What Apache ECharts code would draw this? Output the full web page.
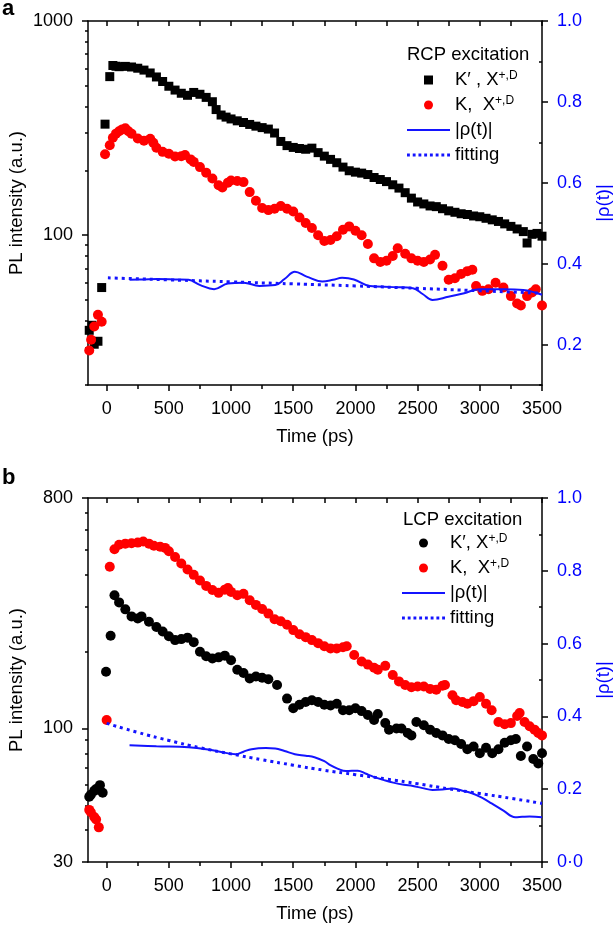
<!DOCTYPE html>
<html>
<head>
<meta charset="utf-8">
<script src="https://cdn.jsdelivr.net/npm/echarts@6/dist/echarts.min.js"></script>
<style>
html,body{margin:0;padding:0;background:#fff;}
#chart{width:616px;height:926px;}
</style>
</head>
<body>
<div id="chart"></div>
<script>
// ---------- tick labels ----------
const xMajorTicks = [0, 500, 1000, 1500, 2000, 2500, 3000, 3500];
const xMinorTicks = [250, 750, 1250, 1750, 2250, 2750, 3250];
const xTopTicks = [0, 250, 500, 750, 1000, 1250, 1500, 1750, 2000, 2250, 2500, 2750, 3000, 3250, 3500];
const topLogMajor = [100, 1000];
const topLogMinor = [20, 30, 40, 50, 60, 70, 80, 90, 200, 300, 400, 500, 600, 700, 800, 900];
const botLogMajor = [30, 100, 800];
const botLogMinor = [40, 50, 60, 70, 80, 90, 200, 300, 400, 500, 600, 700];
const topRhoMajor = [0.2, 0.4, 0.6, 0.8, 1.0];
const topRhoMinor = [0.1, 0.3, 0.5, 0.7, 0.9];
const botRhoMajor = [0, 0.2, 0.4, 0.6, 0.8, 1.0];
const botRhoMinor = [0.1, 0.3, 0.5, 0.7, 0.9];

// ---------- panel a (RCP excitation) ----------
const topKprime = [[-140,36],[-118,38],[-100,31],[-70,32],[-40,57],[-13,330],[25,550],[50,620],[75,615],[100,612],[150,614],[200,610],[250,602],[300,590],[350,572],[400,548],[450,522],[500,496],[550,476],[600,460],[650,450],[700,464],[750,455],[800,440],[850,420],[880,386],[920,364],[960,356],[1000,349],[1050,342],[1100,336],[1150,329],[1200,323],[1250,318],[1300,313],[1350,300],[1400,274],[1450,262],[1500,257],[1550,254],[1600,252],[1650,255],[1700,243],[1750,234],[1800,226],[1850,218],[1900,208],[1950,200],[2000,197],[2050,195],[2100,192],[2150,186],[2200,182],[2250,178],[2300,172],[2350,166],[2400,158],[2450,149],[2500,143],[2550,140],[2600,137],[2650,136],[2700,133],[2750,130],[2800,128],[2850,126],[2900,125],[2950,123],[3000,122],[3050,120],[3100,118],[3150,116],[3200,113],[3250,110],[3300,107],[3350,104],[3380,92],[3420,101],[3460,102],[3500,99]];
const topK = [[-140,29],[-125,32.5],[-100,37.5],[-70,42.5],[-40,39.5],[-13,239],[25,263],[50,285],[75,298],[100,306],[125,312],[150,316],[175,306],[200,298],[250,283],[300,276],[350,282],[375,270],[400,256],[450,245],[500,240],[550,233],[600,234],[630,237],[675,226],[700,220],[750,208],[800,196],[850,184],[900,171],[930,167],[975,176],[1000,180],[1050,179],[1100,177],[1150,159],[1200,145],[1250,134],[1300,131],[1350,133],[1400,137],[1450,133],[1500,129],[1550,121],[1600,114],[1650,108],[1700,100],[1750,94],[1800,95],[1850,99],[1900,106],[1950,110],[2000,105],[2050,100],[2100,91],[2150,78],[2200,75],[2250,76],[2300,80],[2340,87],[2400,82],[2450,78],[2500,76],[2550,75],[2600,77],[2640,81],[2700,72],[2750,62],[2800,63],[2850,66],[2900,68],[2940,69],[2970,58],[3020,55],[3070,56],[3127,60],[3190,57],[3250,52],[3300,48],[3330,47],[3380,52],[3420,54],[3450,56],[3500,47]];
const topRho = [[184,0.360],[300,0.361],[405,0.362],[550,0.361],[658,0.360],[753,0.347],[864,0.337],[975,0.351],[1101,0.353],[1228,0.345],[1355,0.347],[1430,0.362],[1513,0.380],[1608,0.368],[1734,0.356],[1820,0.360],[1893,0.365],[1988,0.361],[2114,0.345],[2304,0.342],[2462,0.339],[2540,0.325],[2620,0.310],[2747,0.318],[2874,0.327],[3000,0.337],[3190,0.337],[3349,0.335],[3500,0.323]];
const topFit = [[10,0.365],[500,0.360],[1000,0.355],[1500,0.350],[2000,0.345],[2500,0.339],[3000,0.333],[3500,0.327]];

// ---------- panel b (LCP excitation) ----------
const botKprime = [[-140,54],[-127,55],[-100,57],[-85,58],[-54,60],[-32,56],[-5,167],[32,231],[63,333],[100,312],[150,293],[200,275],[250,270],[280,275],[340,262],[400,250],[450,240],[500,230],[550,222],[600,224],[650,227],[700,218],[750,200],[800,192],[850,188],[900,190],[950,193],[1000,185],[1050,170],[1100,165],[1150,157],[1200,160],[1250,158],[1300,156],[1370,148],[1450,131],[1500,120],[1550,124],[1600,127],[1650,129],[1700,127],[1750,124],[1800,123],[1850,125],[1900,118],[1950,118],[2000,120],[2050,117],[2100,113],[2150,108],[2180,114],[2240,105],[2270,99],[2330,100],[2370,100],[2420,96],[2450,94],[2490,106],[2550,103],[2600,99],[2650,96],[2700,94],[2750,91],[2800,90],[2850,87],[2900,83],[2950,85],[3000,80],[3050,84],[3100,80],[3150,83],[3200,88],[3250,90],[3290,91],[3330,78],[3380,85],[3430,76],[3470,73],[3500,80]];
const botK = [[-140,48],[-127,47],[-100,45],[-85,44],[-63,41],[0,108],[25,430],[63,504],[100,525],[150,530],[200,532],[250,535],[294,540],[340,530],[380,520],[430,515],[470,510],[500,495],[550,470],[600,443],[650,420],[700,400],[750,380],[800,362],[850,349],[900,340],[950,350],[975,355],[1000,343],[1050,333],[1100,337],[1150,318],[1200,305],[1250,294],[1300,282],[1350,268],[1400,263],[1450,255],[1500,243],[1550,234],[1600,228],[1650,222],[1700,216],[1750,210],[1800,206],[1850,206],[1900,208],[1930,210],[1990,194],[2050,183],[2100,178],[2150,173],[2180,170],[2240,176],[2300,162],[2350,153],[2400,148],[2450,145],[2500,146],[2550,146],[2600,143],[2650,142],[2700,147],[2720,148],[2780,135],[2810,129],[2860,127],[2900,125],[2950,128],[3000,133],[3050,125],[3095,118],[3150,106],[3200,104],[3250,105],[3300,112],[3320,115],[3360,106],[3400,102],[3440,99],[3470,96],[3500,94]];
const botRho = [[184,0.321],[400,0.318],[658,0.315],[800,0.310],[911,0.303],[1038,0.296],[1100,0.303],[1165,0.310],[1280,0.313],[1355,0.312],[1430,0.305],[1513,0.296],[1600,0.292],[1671,0.288],[1750,0.277],[1798,0.266],[1860,0.256],[1924,0.250],[2019,0.251],[2080,0.243],[2146,0.234],[2230,0.225],[2304,0.218],[2390,0.212],[2462,0.209],[2540,0.203],[2620,0.198],[2700,0.199],[2779,0.202],[2860,0.196],[2937,0.189],[3020,0.176],[3095,0.161],[3190,0.141],[3285,0.123],[3340,0.124],[3400,0.125],[3500,0.123]];
const botFit = [[0,0.381],[250,0.356],[500,0.334],[750,0.314],[1000,0.297],[1250,0.281],[1500,0.266],[1750,0.252],[2000,0.240],[2250,0.228],[2500,0.215],[2750,0.201],[3000,0.188],[3250,0.175],[3500,0.161]];

// ---------- texts ----------
const FONT = '"Liberation Sans", Arial, sans-serif';
const BLUE_TEXT = '#0000ff';
const BLUE_LINE = '#1414ff';
const legendTexts = {
  aKp: 'K\u2032 , X{sup|+,D}', aK: 'K,  X{sup|+,D}', aRho: '|\u03c1(t)|', aFit: 'fitting',
  bKp: 'K\u2032, X{sup|+,D}', bK: 'K,  X{sup|+,D}', bRho: '|\u03c1(t)|', bFit: 'fitting'
};

const chart = echarts.init(document.getElementById('chart'), null, {renderer: 'canvas'});

const axisLine = {show: true, onZero: false, lineStyle: {color: '#000', width: 1.5}};
const noLine = {show: false, onZero: false};
const tickStyle = {color: '#000', width: 1.5};

function xAxes(gi) {
  const base = {gridIndex: gi, type: 'value', min: -150, max: 3500, splitLine: {show: false}};
  return [
    Object.assign({}, base, {
      position: 'bottom', axisLine: axisLine,
      axisTick: {show: true, customValues: xMajorTicks, length: 6, lineStyle: tickStyle},
      axisLabel: {show: true, customValues: xMajorTicks, fontSize: 18, fontFamily: FONT, color: '#000', margin: 15,
                  formatter: v => String(Math.round(v))},
      name: 'Time (ps)', nameLocation: 'middle', nameGap: 42, nameMoveOverlap: false,
      nameTextStyle: {fontSize: 18.5, fontFamily: FONT, color: '#000'}
    }),
    Object.assign({}, base, {
      position: 'bottom', axisLine: noLine,
      axisTick: {show: true, customValues: xMinorTicks, length: 4, lineStyle: tickStyle},
      axisLabel: {show: false}
    }),
    Object.assign({}, base, {
      position: 'top', axisLine: axisLine,
      axisTick: {show: true, inside: true, customValues: xTopTicks, length: 5, lineStyle: tickStyle},
      axisLabel: {show: false}
    })
  ];
}

function yAxes(gi, lmin, lmax, lMajor, lMinor, rmin, rMajor, rMinor) {
  return [
    {gridIndex: gi, type: 'log', logBase: 10, min: lmin, max: lmax, position: 'left',
     axisLine: axisLine, splitLine: {show: false},
     axisTick: {show: true, customValues: lMajor, length: 6, lineStyle: tickStyle},
     axisLabel: {show: true, customValues: lMajor, fontSize: 18, fontFamily: FONT, color: '#000', margin: 15,
                 formatter: v => String(Math.round(v))},
     name: 'PL intensity (a.u.)', nameLocation: 'middle', nameGap: 62, nameRotate: 90, nameMoveOverlap: false,
     nameTextStyle: {fontSize: 18.5, fontFamily: FONT, color: '#000'}},
    {gridIndex: gi, type: 'log', logBase: 10, min: lmin, max: lmax, position: 'left',
     axisLine: noLine, splitLine: {show: false},
     axisTick: {show: true, customValues: lMinor, length: 3, lineStyle: tickStyle},
     axisLabel: {show: false}},
    {gridIndex: gi, type: 'value', min: rmin, max: 1, position: 'right',
     axisLine: axisLine, splitLine: {show: false},
     axisTick: {show: true, customValues: rMajor, length: 6, lineStyle: tickStyle},
     axisLabel: {show: true, customValues: rMajor, fontSize: 18, fontFamily: FONT, color: BLUE_TEXT, margin: 15,
                 formatter: v => (Math.abs(v) < 1e-9 ? '0\u00b70' : v.toFixed(1))},
     name: '|\u03c1(t)|', nameLocation: 'middle', nameGap: 52, nameRotate: 90, nameMoveOverlap: false,
     nameTextStyle: {fontSize: 18.5, fontFamily: FONT, color: BLUE_TEXT}},
    {gridIndex: gi, type: 'value', min: rmin, max: 1, position: 'right',
     axisLine: noLine, splitLine: {show: false},
     axisTick: {show: true, inside: true, customValues: rMinor, length: 3, lineStyle: tickStyle},
     axisLabel: {show: false}}
  ];
}

function panelSeries(prefix, gi, kpData, kData, rhoData, fitData, kpSymbol) {
  const xi = gi * 3, yl = gi * 4, yr = gi * 4 + 2;
  return [
    {name: prefix + 'Kp', type: 'scatter', xAxisIndex: xi, yAxisIndex: yl, data: kpData,
     symbol: kpSymbol, symbolSize: kpSymbol === 'rect' ? 9 : 10, itemStyle: {color: '#000', opacity: 1}, z: 2},
    {name: prefix + 'K', type: 'scatter', xAxisIndex: xi, yAxisIndex: yl, data: kData,
     symbol: 'circle', symbolSize: 10, itemStyle: {color: '#ff0000', opacity: 1}, z: 3},
    {name: prefix + 'Rho', type: 'line', xAxisIndex: xi, yAxisIndex: yr, data: rhoData,
     symbol: 'none', smooth: 0.4, itemStyle: {color: BLUE_LINE}, lineStyle: {color: BLUE_LINE, width: 2}, z: 4},
    {name: prefix + 'Fit', type: 'line', xAxisIndex: xi, yAxisIndex: yr, data: fitData,
     symbol: 'none', smooth: true, itemStyle: {color: BLUE_LINE},
     lineStyle: {color: BLUE_LINE, width: 3, type: [3, 4]}, z: 4}
  ];
}

const squareIcon = 'path://M0 0H10V10H0Z';
const solidIcon = 'path://M0 0H43V2H0Z';
const dottedIcon = 'path://M0 0h3v3h-3zM6 0h3v3h-3zM12 0h3v3h-3zM18 0h3v3h-3zM24 0h3v3h-3zM30 0h3v3h-3zM36 0h3v3h-3zM42 0h3v3h-3z';

function legendFor(prefix, left, top, kpIcon) {
  return {
    orient: 'vertical', left: left, top: top, padding: 0,
    itemWidth: 43, itemHeight: 9, itemGap: 5, itemTextGap: 5,
    selectedMode: false, symbolKeepAspect: true,
    data: [
      {name: prefix + 'Kp', icon: kpIcon},
      {name: prefix + 'K', icon: 'circle'},
      {name: prefix + 'Rho', icon: solidIcon},
      {name: prefix + 'Fit', icon: dottedIcon}
    ],
    formatter: name => legendTexts[name],
    textStyle: {fontSize: 18.5, fontFamily: FONT, color: '#000', lineHeight: 20,
                rich: {sup: {fontSize: 12, fontFamily: FONT, color: '#000', verticalAlign: 'top', lineHeight: 11}}}
  };
}

const option = {
  animation: false,
  backgroundColor: '#fff',
  grid: [
    {left: 88, top: 21, width: 454, height: 364, containLabel: false, outerBoundsMode: 'none'},
    {left: 88, top: 498, width: 454, height: 364, containLabel: false, outerBoundsMode: 'none'}
  ],
  xAxis: xAxes(0).concat(xAxes(1)),
  yAxis: yAxes(0, 20, 1000, topLogMajor, topLogMinor, 0.1, topRhoMajor, topRhoMinor)
    .concat(yAxes(1, 30, 800, botLogMajor, botLogMinor, 0, botRhoMajor, botRhoMinor)),
  legend: [legendFor('a', 407, 70, squareIcon), legendFor('b', 402, 533, 'circle')],
  graphic: [
    {type: 'text', left: 2, top: -2, style: {text: 'a', font: 'bold 22px ' + FONT, fill: '#000'}},
    {type: 'text', left: 2, top: 467, style: {text: 'b', font: 'bold 22px ' + FONT, fill: '#000'}},
    {type: 'text', left: 407, top: 45, style: {text: 'RCP excitation', font: '18.5px ' + FONT, fill: '#000'}},
    {type: 'text', left: 403, top: 510, style: {text: 'LCP excitation', font: '18.5px ' + FONT, fill: '#000'}}
  ],
  series: panelSeries('a', 0, topKprime, topK, topRho, topFit, 'rect')
    .concat(panelSeries('b', 1, botKprime, botK, botRho, botFit, 'circle'))
};
chart.setOption(option);
</script>
</body>
</html>
